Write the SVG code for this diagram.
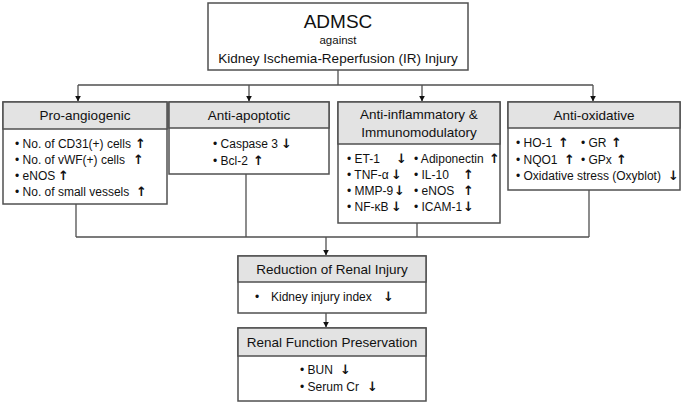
<svg xmlns="http://www.w3.org/2000/svg" width="685" height="406" viewBox="0 0 685 406">
<defs>
<style>
.box{fill:#fff;stroke:#505050;stroke-width:1.5}
.hdr{fill:#e3e3e3;stroke:#505050;stroke-width:1.5}
.ln{fill:none;stroke:#505050;stroke-width:1.3}
text{font-family:"Liberation Sans",Arial,sans-serif;fill:#111}
.h{font-size:13.5px;text-anchor:middle}
.i{font-size:12px}
.a{font-size:13px;font-weight:bold;font-family:"DejaVu Sans","Liberation Sans",sans-serif}
</style>
<marker id="ah" viewBox="0 0 10 10" refX="9" refY="5" markerWidth="6" markerHeight="6" orient="auto" markerUnits="userSpaceOnUse">
<path d="M0,0 L10,5 L0,10 z" fill="#111"/>
</marker>
</defs>
<rect width="685" height="406" fill="#fff"/>

<g id="connectors">
<path class="ln" d="M338,70 V85 M78,85 H593"/>
<path class="ln" d="M78,85 V101" marker-end="url(#ah)"/>
<path class="ln" d="M249,85 V101" marker-end="url(#ah)"/>
<path class="ln" d="M422,85 V101" marker-end="url(#ah)"/>
<path class="ln" d="M593,85 V101" marker-end="url(#ah)"/>
<path class="ln" d="M76,204 V237 M246,174 V237 M417,223 V237 M589,190 V237 M76,237 H589"/>
<path class="ln" d="M326,237 V255" marker-end="url(#ah)"/>
<path class="ln" d="M326,313 V327" marker-end="url(#ah)"/>
</g>

<g id="admsc">
<rect class="box" x="208" y="3" width="260" height="67"/>
<text x="338" y="28" text-anchor="middle" font-size="19">ADMSC</text>
<text x="338" y="44" text-anchor="middle" font-size="11.5">against</text>
<text x="338" y="63" text-anchor="middle" font-size="13.5">Kidney Ischemia-Reperfusion (IR) Injury</text>
</g>

<g id="pro-angiogenic">
<rect class="box" x="3" y="102" width="164" height="102"/>
<rect class="hdr" x="3" y="102" width="164" height="27"/>
<text class="h" x="85" y="120">Pro-angiogenic</text>
<text class="i" x="15" y="148">• No. of CD31(+) cells</text><text class="a" x="135" y="148">↑</text>
<text class="i" x="15" y="164">• No. of vWF(+) cells</text><text class="a" x="133" y="164">↑</text>
<text class="i" x="15" y="180">• eNOS</text><text class="a" x="58" y="180">↑</text>
<text class="i" x="15" y="196">• No. of small vessels</text><text class="a" x="136" y="196">↑</text>
</g>

<g id="anti-apoptotic">
<rect class="box" x="169" y="102" width="160" height="72"/>
<rect class="hdr" x="169" y="102" width="160" height="26"/>
<text class="h" x="249" y="120">Anti-apoptotic</text>
<text class="i" x="213" y="148">• Caspase 3</text><text class="a" x="281" y="148">↓</text>
<text class="i" x="213" y="165">• Bcl-2</text><text class="a" x="253" y="165">↑</text>
</g>

<g id="anti-inflammatory">
<rect class="box" x="338" y="102" width="162" height="121"/>
<rect class="hdr" x="338" y="102" width="162" height="42"/>
<text class="h" x="419" y="119">Anti-inflammatory  &amp;</text>
<text class="h" x="419" y="137">Immunomodulatory</text>
<text class="i" x="347" y="163">• ET-1</text><text class="a" x="396" y="163">↓</text>
<text class="i" x="347" y="179">• TNF-α</text><text class="a" x="391" y="179">↓</text>
<text class="i" x="347" y="195">• MMP-9</text><text class="a" x="394" y="195">↓</text>
<text class="i" x="347" y="211">• NF-κB</text><text class="a" x="391" y="211">↓</text>
<text class="i" x="414" y="163">• Adiponectin</text><text class="a" x="489" y="163">↑</text>
<text class="i" x="414" y="179">• IL-10</text><text class="a" x="463" y="179">↑</text>
<text class="i" x="414" y="195">• eNOS</text><text class="a" x="463" y="195">↑</text>
<text class="i" x="414" y="211">• ICAM-1</text><text class="a" x="463" y="211">↓</text>
</g>

<g id="anti-oxidative">
<rect class="box" x="508" y="102" width="172" height="88"/>
<rect class="hdr" x="508" y="102" width="172" height="26"/>
<text class="h" x="594" y="120">Anti-oxidative</text>
<text class="i" x="516" y="147">• HO-1</text><text class="a" x="558" y="147">↑</text>
<text class="i" x="516" y="164">• NQO1</text><text class="a" x="564" y="164">↑</text>
<text class="i" x="581" y="147">• GR</text><text class="a" x="611" y="147">↑</text>
<text class="i" x="581" y="164">• GPx</text><text class="a" x="616" y="164">↑</text>
<text class="i" x="516" y="180">• Oxidative stress (Oxyblot)</text><text class="a" x="668" y="180">↓</text>
</g>

<g id="reduction">
<rect class="box" x="238" y="256" width="188" height="57"/>
<rect class="hdr" x="238" y="256" width="188" height="26"/>
<text class="h" x="332" y="274">Reduction of Renal Injury</text>
<text class="i" x="255" y="301">•</text>
<text class="i" x="271" y="301">Kidney injury index</text><text class="a" x="383" y="301">↓</text>
</g>

<g id="renal-function">
<rect class="box" x="238" y="328" width="188" height="73"/>
<rect class="hdr" x="238" y="328" width="188" height="28"/>
<text class="h" x="332" y="347">Renal Function Preservation</text>
<text class="i" x="300" y="374">• BUN</text><text class="a" x="340" y="374">↓</text>
<text class="i" x="300" y="391">• Serum Cr</text><text class="a" x="367" y="391">↓</text>
</g>
</svg>
